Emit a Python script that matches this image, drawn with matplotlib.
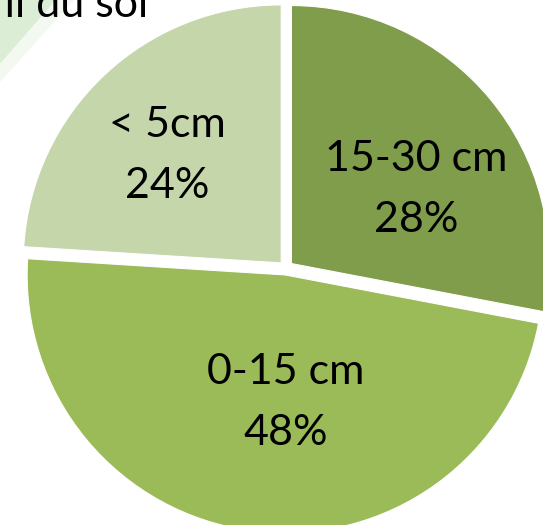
import matplotlib.pyplot as plt
from matplotlib.patches import Polygon

# soil depth classes, clockwise from 12 o'clock
depths = ['15-30 cm', '0-15 cm', '< 5cm']
shares = [28, 48, 24]
colors = ['#7f9d4b', '#9bbb59', '#c5d6ab']

W, H = 543, 525
FONT = 'Lato'

fig = plt.figure(figsize=(W / 100, H / 100), dpi=100)
ax = fig.add_axes([0, 0, 1, 1])

# pale decoration in the top-left corner
ax.add_patch(Polygon([(0, H), (56, H), (0, H - 64)], closed=True,
                     facecolor='#dcedd6', edgecolor='none', zorder=0))
ax.add_patch(Polygon([(56, H), (74, H), (0, H - 82), (0, H - 64)], closed=True,
                     facecolor='#f3f9f1', edgecolor='none', zorder=0))

wedges, _ = ax.pie(shares, colors=colors, startangle=90, counterclock=False,
                   center=(286, H - 268), radius=258, explode=[7, 7, 7],
                   wedgeprops=dict(edgecolor='white', linewidth=0.8))

# label baselines (name, percentage)
label_x = [416, 286, 167]
label_y = [171, 384, 137]
for name, val, x, y in zip(depths, shares, label_x, label_y):
    ax.text(x, H - y, name, ha='center', va='baseline',
            fontsize=31, family=FONT, color='black')
    ax.text(x, H - y - 61, '%d%%' % val, ha='center', va='baseline',
            fontsize=31, family=FONT, color='black')

ax.text(148, H - 17, 'Profil du sol', ha='right', va='baseline',
        fontsize=31, family=FONT, color='black')

ax.set_xlim(0, W)
ax.set_ylim(0, H)
ax.set_aspect('auto')
ax.axis('off')

fig.savefig('out.png', dpi=100)
